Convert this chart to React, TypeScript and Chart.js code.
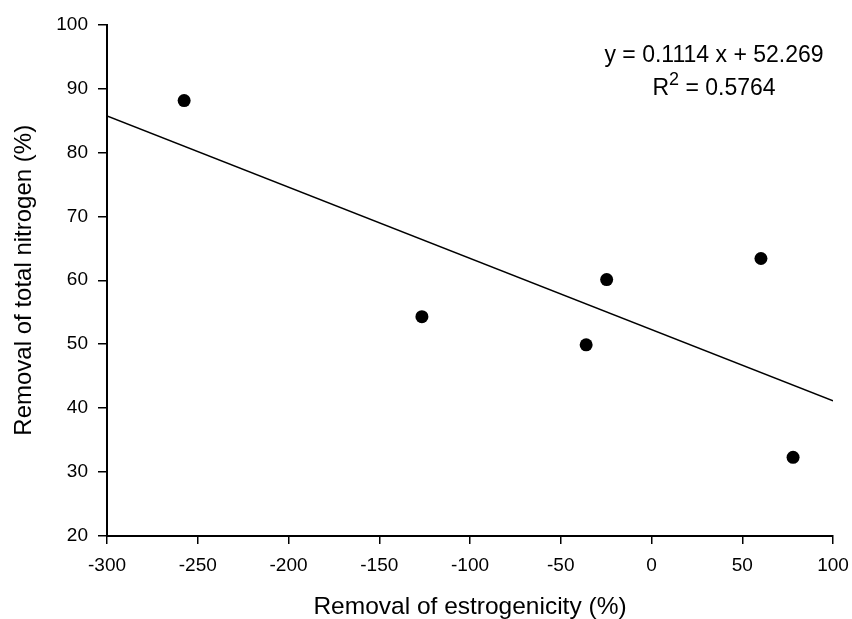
import React, { useEffect, useRef } from "react";
import { Chart, registerables } from "chart.js";

Chart.register(...registerables);

// ---- data ----
const xValues = [-257.5, -126.5, -36, -24.7, 60.3, 78];
const yValues = [88.1, 54.3, 49.9, 60.1, 63.4, 32.3];
const fitSlope = -0.1114;
const fitIntercept = 52.269;
const fitRange = [-300, 100];
const xTitle = "Removal of estrogenicity (%)";
const yTitle = "Removal of total nitrogen (%)";
const eqLine1 = "y = 0.1114 x + 52.269";
const r2Label = "R";
const r2Sup = "2";
const r2Value = " = 0.5764";

const FAMILY = '"Liberation Sans", Arial, Helvetica, sans-serif';

const eqPlugin = {
  id: "eqText",
  afterDraw(chart: any) {
    const ctx = chart.ctx as CanvasRenderingContext2D;
    ctx.save();
    ctx.fillStyle = "#000";
    const big = `23px ${FAMILY}`;
    const small = `18px ${FAMILY}`;
    ctx.font = big;
    ctx.textAlign = "center";
    ctx.textBaseline = "alphabetic";
    ctx.fillText(eqLine1, 714, 61.5);
    ctx.textAlign = "left";
    const wR = ctx.measureText(r2Label).width;
    const wRest = ctx.measureText(r2Value).width;
    ctx.font = small;
    const w2 = ctx.measureText(r2Sup).width;
    const total = wR + w2 + wRest;
    let x = 714 - total / 2;
    ctx.font = big;
    ctx.fillText(r2Label, x, 95);
    x += wR;
    ctx.font = small;
    ctx.fillText(r2Sup, x, 85);
    x += w2;
    ctx.font = big;
    ctx.fillText(r2Value, x, 95);
    ctx.restore();
  },
};

export default function App() {
  const canvasRef = useRef<HTMLCanvasElement | null>(null);

  useEffect(() => {
    if (!canvasRef.current) return;
    const points = xValues.map((x, i) => ({ x, y: yValues[i] }));
    const fitPoints = fitRange.map((x) => ({ x, y: fitSlope * x + fitIntercept }));
    const chart = new Chart(canvasRef.current, {
      type: "scatter",
      data: {
        datasets: [
          {
            type: "scatter",
            data: points,
            backgroundColor: "#000",
            borderColor: "#000",
            pointRadius: 6.5,
            pointHoverRadius: 6.5,
            borderWidth: 0,
          } as any,
          {
            type: "line",
            data: fitPoints,
            borderColor: "#000",
            borderWidth: 1.5,
            pointRadius: 0,
            fill: false,
            showLine: true,
          } as any,
        ],
      },
      options: {
        animation: false,
        responsive: false,
        layout: { padding: { top: 24.5, right: 19, left: 0, bottom: 0 } },
        plugins: { legend: { display: false }, tooltip: { enabled: false } },
        scales: {
          x: {
            type: "linear",
            min: -300,
            max: 100,
            ticks: {
              stepSize: 50,
              color: "#000",
              font: { size: 19, family: FAMILY },
              padding: 10,
              maxRotation: 0,
              autoSkip: false,
            },
            grid: {
              drawOnChartArea: false,
              drawTicks: true,
              tickLength: 8,
              color: "#000",
              lineWidth: 1.5,
            },
            border: { display: true, color: "#000", width: 2 },
            title: {
              display: true,
              text: xTitle,
              color: "#000",
              font: { size: 24.5, family: FAMILY, lineHeight: 1 },
              padding: { top: 0, bottom: 0 },
            },
            afterFit(s: any) {
              s.height = 83;
              s.paddingLeft = 0;
              s.paddingRight = 0;
            },
          },
          y: {
            type: "linear",
            min: 20,
            max: 100,
            ticks: {
              stepSize: 10,
              color: "#000",
              font: { size: 19, family: FAMILY },
              padding: 10,
              autoSkip: false,
            },
            grid: {
              drawOnChartArea: false,
              drawTicks: true,
              tickLength: 9,
              color: "#000",
              lineWidth: 1.5,
            },
            border: { display: true, color: "#000", width: 2 },
            title: {
              display: true,
              text: yTitle,
              color: "#000",
              font: { size: 24, family: FAMILY, lineHeight: 1 },
              padding: { top: 12, bottom: 0 },
            },
            afterFit(s: any) {
              s.width = 107;
              s.paddingTop = 0;
              s.paddingBottom = 0;
            },
          },
        },
      } as any,
      plugins: [eqPlugin],
    });
    return () => chart.destroy();
  }, []);

  return (
    <div style={{ position: "absolute", left: 0, top: 0, width: 852, height: 619, background: "#fff" }}>
      <canvas ref={canvasRef} width={852} height={619} style={{ display: "block" }} />
    </div>
  );
}
